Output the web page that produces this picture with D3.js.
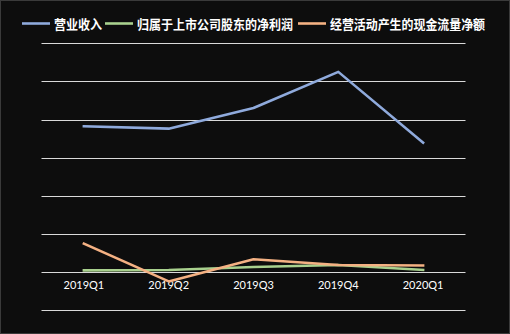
<!DOCTYPE html>
<html><head><meta charset="utf-8">
<script src="https://cdn.jsdelivr.net/npm/d3@7/dist/d3.min.js"></script>
<style>html,body{margin:0;padding:0;background:#0d0d0d;}svg{display:block;}</style>
</head><body><svg id="c" width="510" height="334"></svg>
<script>
const categories = ["2019Q1","2019Q2","2019Q3","2019Q4","2020Q1"];
const revenue = [3.82, 3.76, 4.30, 5.25, 3.39];
const netProfit = [0.04, 0.05, 0.13, 0.18, 0.05];
const cashFlow = [0.74, -0.25, 0.33, 0.18, 0.17];
const seriesNames = ["营业收入","归属于上市公司股东的净利润","经营活动产生的现金流量净额"];
const seriesColors = ["#8faadc","#a9d18e","#f4b183"];
const yTicks = [-1,0,1,2,3,4,5,6];

const svg = d3.select("#c");
const W = 510, H = 334;
svg.append("rect").attr("x",0.5).attr("y",0.5).attr("width",W-1).attr("height",H-1)
  .attr("fill","#0d0d0d").attr("stroke","#3a3a3a");

const x = d3.scaleBand().domain(categories).range([41.5, 465.5]);
const y = d3.scaleLinear().domain([-1, 6]).range([310, 43.3]);

// gridlines
svg.append("g").selectAll("line").data(yTicks).join("line")
  .attr("x1", 41.5).attr("x2", 465.5)
  .attr("y1", d => Math.round(y(d)) + 0.5).attr("y2", d => Math.round(y(d)) + 0.5)
  .attr("stroke", "#d9d9d9").attr("stroke-width", 1);

// x labels
const xAxis = d3.axisBottom(x).tickSize(0).tickPadding(0);
const gx = svg.append("g").attr("transform", "translate(0,281)").call(xAxis);
gx.select(".domain").remove();
gx.selectAll("text").attr("fill", "#ffffff").attr("font-family", "Lato, 'Liberation Sans', sans-serif")
  .attr("font-size", "11px");

const line = d3.line().x((d,i) => x(categories[i]) + x.bandwidth()/2).y(d => y(d));
const data = [revenue, netProfit, cashFlow];
// draw order: green, orange, blue
[1,2,0].forEach(k => {
  svg.append("path").datum(data[k]).attr("d", line).attr("fill","none")
    .attr("stroke", seriesColors[k]).attr("stroke-width", 2.6)
    .attr("stroke-linejoin","round").attr("stroke-linecap","square");
});

// legend
const legendX = [22, 105, 298];
const textLens = [48, 156, 155];
const lg = svg.append("g");
seriesNames.forEach((n, i) => {
  const lx = legendX[i];
  lg.append("line").attr("x1", lx).attr("x2", lx + 28).attr("y1", 23.5).attr("y2", 23.5)
    .attr("stroke", seriesColors[i]).attr("stroke-width", 2.6);
  lg.append("text").attr("x", lx + 32).attr("y", 28.5).text(n)
    .attr("fill", "#ffffff").attr("font-family", "'Noto Sans CJK SC', sans-serif")
    .attr("font-weight", "bold").attr("font-size", "13px")
    .attr("textLength", textLens[i]).attr("lengthAdjust", "spacingAndGlyphs");
});
</script></body></html>
